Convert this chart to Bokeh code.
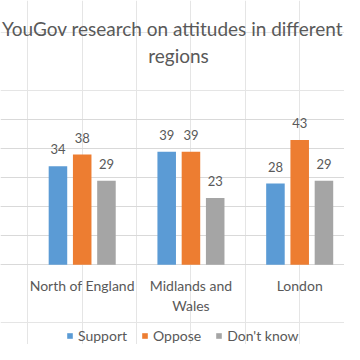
from bokeh.plotting import figure
from bokeh.models import (ColumnDataSource, Range1d, FixedTicker, Legend, LegendItem, Label, Grid)
from bokeh.transform import dodge
from bokeh.core.properties import value
from bokeh.embed import file_html
from bokeh.resources import INLINE

title_line1 = "YouGov research on attitudes in different"
title_line2 = "regions"
categories = ["North of England", "Midlands and\nWales", "London"]
support = [34, 39, 28]
oppose = [38, 39, 43]
dont_know = [29, 23, 29]
series = ["Support", "Oppose", "Don't know"]
colors = ["#5B9BD5", "#ED7D31", "#A5A5A5"]
grid_ticks = [0, 10, 20, 30, 40, 50]

xs = list(range(len(categories)))
src = ColumnDataSource(dict(
    x=xs, support=support, oppose=oppose, dont_know=dont_know,
    support_t=[str(v) for v in support],
    oppose_t=[str(v) for v in oppose],
    dont_know_t=[str(v) for v in dont_know],
))
cat_src = ColumnDataSource(dict(x=xs, y=[0] * len(xs), label=categories))

FONT = "Lato"
TXT = "#595959"

p = figure(width=344, height=344, output_backend="svg", toolbar_location=None,
           x_range=Range1d(-0.7513, 2.412), y_range=Range1d(-27.48, 91.14),
           x_axis_location=None, y_axis_location=None,
           min_border_left=0, min_border_right=0, min_border_top=0, min_border_bottom=0)
p.title = None
p.outline_line_color = None
p.background_fill_color = "white"
p.border_fill_color = "white"

p.add_layout(Grid(dimension=1, ticker=FixedTicker(ticks=grid_ticks),
                  grid_line_color="#D9D9D9", grid_line_width=1))

offsets = [-0.223, 0.0, 0.223]
keys = ["support", "oppose", "dont_know"]
renderers = []
for k, off, c in zip(keys, offsets, colors):
    r = p.vbar(x=dodge("x", off), top=k, width=0.1705, bottom=0, source=src,
               fill_color=c, line_color=None)
    renderers.append(r)
    p.text(x=dodge("x", off), y=k, text=k + "_t", source=src,
           text_align="center", text_baseline="bottom", y_offset=-12,
           text_font=value(FONT), text_font_size="13px", text_color=TXT)

# category labels (x axis)
p.text(x="x", y="y", text="label", source=cat_src, text_align="center",
       text_baseline="top", y_offset=12, text_line_height=1.2,
       text_font=value(FONT), text_font_size="14px", text_color=TXT)

legend = Legend(items=[LegendItem(label=s, renderers=[r]) for s, r in zip(series, renderers)],
                orientation="horizontal", location=(66, 0),
                label_text_font=FONT, label_text_font_size="14px", label_text_color=TXT,
                glyph_width=7, glyph_height=7, label_standoff=5, spacing=14,
                label_height=14, padding=0, margin=0,
                border_line_color=None, background_fill_alpha=0)
p.add_layout(legend, "center")

p.add_layout(Label(x=172, y=316, x_units="screen", y_units="screen", text=title_line1,
                   text_align="center", text_baseline="middle", text_font=FONT,
                   text_font_size="19px", text_color=TXT))
p.add_layout(Label(x=178, y=289, x_units="screen", y_units="screen", text=title_line2,
                   text_align="center", text_baseline="middle", text_font=FONT,
                   text_font_size="19px", text_color=TXT))

open("out.html", "w").write(file_html(p, INLINE))
